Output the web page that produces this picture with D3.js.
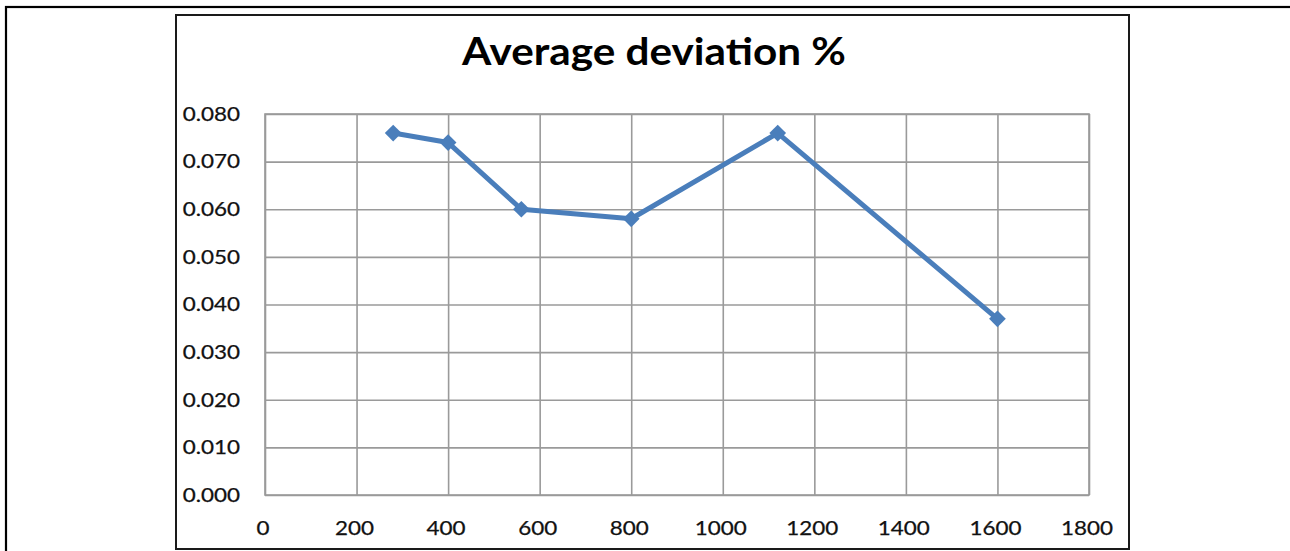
<!DOCTYPE html>
<html><head><meta charset="utf-8">
<script src="https://cdn.jsdelivr.net/npm/d3@7"></script>
<style>html,body{margin:0;padding:0;background:#fff;overflow:hidden}</style>
</head><body>
<svg id="c" width="1290" height="551"></svg>
<script>
const title = "Average deviation %";
const xValues = [280, 400, 560, 800, 1120, 1600];
const yValues = [0.076, 0.074, 0.060, 0.058, 0.076, 0.037];
const xTicks = [0, 200, 400, 600, 800, 1000, 1200, 1400, 1600, 1800];
const yTicks = [0, 0.01, 0.02, 0.03, 0.04, 0.05, 0.06, 0.07, 0.08];

const svg = d3.select("#c");
const font = "Lato, 'Open Sans', sans-serif";
const stretch = 1.18;

// outer frame
svg.append("rect").attr("x", 6).attr("y", 7).attr("width", 1300).attr("height", 600)
  .attr("fill", "none").attr("stroke", "#000").attr("stroke-width", 2.2);
// chart frame
svg.append("rect").attr("x", 176).attr("y", 15).attr("width", 953).attr("height", 534)
  .attr("fill", "#fff").attr("stroke", "#1a1a1a").attr("stroke-width", 2);

const L = 265, T = 114, R = 1089, B = 495;
const x = d3.scaleLinear().domain([0, 1800]).range([L, R]);
const y = d3.scaleLinear().domain([0, 0.08]).range([B, T]);

// grid
const g = svg.append("g");
g.append("g").attr("transform", `translate(0,${B})`)
  .call(d3.axisBottom(x).tickValues(xTicks).tickSize(-(B - T)).tickFormat(""))
  .call(s => { s.select(".domain").remove(); s.selectAll("line").attr("stroke", "#9a9a9a").attr("stroke-width", 1.6); });
g.append("g").attr("transform", `translate(${L},0)`)
  .call(d3.axisLeft(y).tickValues(yTicks).tickSize(-(R - L)).tickFormat(""))
  .call(s => { s.select(".domain").remove(); s.selectAll("line").attr("stroke", "#9a9a9a").attr("stroke-width", 1.6); });
g.append("rect").attr("x", L).attr("y", T).attr("width", R - L).attr("height", B - T)
  .attr("fill", "none").attr("stroke", "#9a9a9a").attr("stroke-width", 1.6);

function stretchText(sel, factor) {
  sel.each(function () {
    const w = this.getComputedTextLength();
    d3.select(this).attr("textLength", w * factor).attr("lengthAdjust", "spacingAndGlyphs");
  });
}

// y labels
const yl = svg.append("g").selectAll("text").data(yTicks).join("text")
  .attr("x", 240).attr("y", d => y(d)).attr("dy", "0.36em")
  .attr("text-anchor", "end").attr("font-family", font).attr("font-size", 19)
  .attr("fill", "#111").attr("stroke", "#111").attr("stroke-width", 0.25)
  .text(d => d3.format(".3f")(d));
stretchText(yl, stretch);

// x labels
const xl = svg.append("g").selectAll("text").data(xTicks).join("text")
  .attr("x", d => x(d) - 2).attr("y", 535)
  .attr("text-anchor", "middle").attr("font-family", font).attr("font-size", 19)
  .attr("fill", "#111").attr("stroke", "#111").attr("stroke-width", 0.25)
  .text(d => d);
stretchText(xl, stretch);

// title
const tt = svg.append("text").attr("x", 654).attr("y", 65).attr("text-anchor", "middle")
  .attr("font-family", font).attr("font-weight", "bold").attr("font-size", 38)
  .attr("fill", "#000").text(title)
  .attr("textLength", 384).attr("lengthAdjust", "spacingAndGlyphs");

// line
const data = xValues.map((v, i) => [v, yValues[i]]);
svg.append("path").datum(data)
  .attr("d", d3.line().x(d => x(d[0])).y(d => y(d[1])))
  .attr("fill", "none").attr("stroke", "#4a7ebb").attr("stroke-width", 5)
  .attr("stroke-linejoin", "round");

const sym = d3.symbol().type(d3.symbolSquare).size(140);
svg.append("g").selectAll("path").data(data).join("path")
  .attr("transform", d => `translate(${x(d[0])},${y(d[1])}) rotate(45)`)
  .attr("d", sym).attr("fill", "#4a7ebb");
</script>
</body></html>
